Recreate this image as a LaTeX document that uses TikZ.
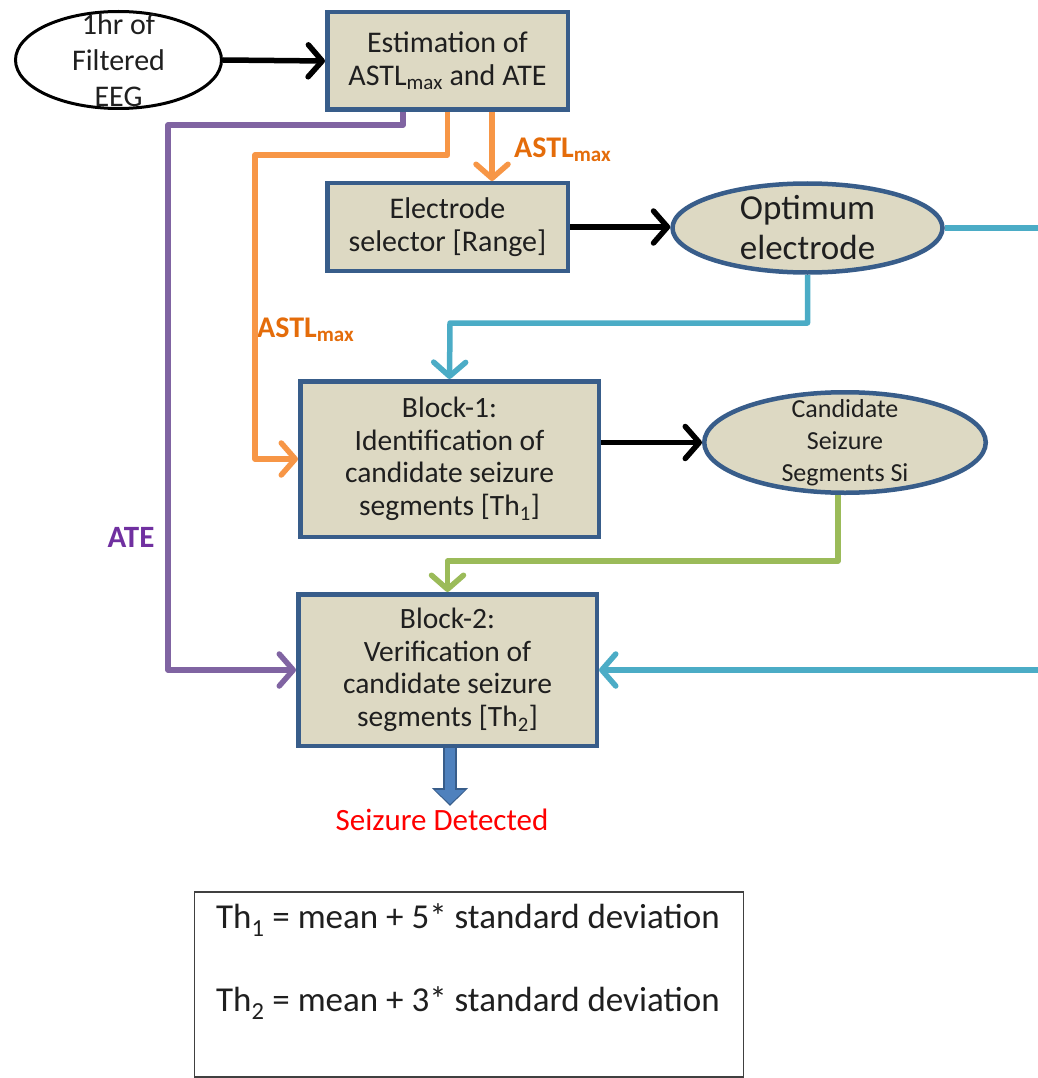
\documentclass[tikz,border=0pt]{standalone}
\usepackage{fontspec}
\setmainfont{Carlito}
\usetikzlibrary{arrows.meta,shapes.geometric,calc}
\definecolor{boxfill}{HTML}{DDD9C3}
\definecolor{boxline}{HTML}{385D8A}
\definecolor{orng}{HTML}{F79646}
\definecolor{orngtxt}{HTML}{E46C0A}
\definecolor{purp}{HTML}{8064A2}
\definecolor{purptxt}{HTML}{7030A0}
\definecolor{cyn}{HTML}{4BACC6}
\definecolor{grn}{HTML}{9BBB59}
\definecolor{arrblue}{HTML}{4F81BD}
\definecolor{txt}{HTML}{1F1F1F}
\begin{document}
\begin{tikzpicture}[x=1pt,y=-1pt,
  procbox/.style={draw=boxline, fill=boxfill, line width=4.5pt, rectangle, inner sep=0pt,
    align=center, text=txt, font=\fontsize{30}{33}\selectfont},
  ovalnode/.style={ellipse, draw=boxline, fill=boxfill, line width=4.5pt, inner sep=0pt},
  conn/.style={line width=5.5pt, line join=round, -{Straight Barb[length=14pt,width=32pt,round]}},
  lbl/.style={font=\bfseries\fontsize{30}{34}\selectfont, inner sep=0pt}
]
\useasboundingbox (0,0) rectangle (1037,1078);

% process boxes
\node[procbox, minimum width=240.5, minimum height=97.5] (est) at (447.5,61)
  {Estimation of\\ASTL\textsubscript{max} and ATE};
\node[procbox, minimum width=240.5, minimum height=87.5] (sel) at (447.5,227)
  {Electrode\\selector [Range]};
\node[procbox, font=\fontsize{29.5}{32.5}\selectfont, minimum width=298.5, minimum height=155.5] (b1) at (449.5,459)
  {Block-1:\\Identification of\\candidate seizure\\segments [Th\textsubscript{1}]};
\node[procbox, font=\fontsize{29.5}{32.5}\selectfont, minimum width=298.5, minimum height=151.5] (b2) at (447.5,670)
  {Block-2:\\Verification of\\candidate seizure\\segments [Th\textsubscript{2}]};

% ellipses
\node[ellipse, draw=black, fill=white, line width=3pt, inner sep=0pt,
  minimum width=206, minimum height=97,
  label={[align=center, text=txt, font=\fontsize{30}{36}\selectfont]center:1hr of\\Filtered\\EEG}]
  (eeg) at (118.5,60) {};
\node[ovalnode, minimum width=270, minimum height=89,
  label={[align=center, text=txt, font=\fontsize{35}{40}\selectfont]center:Optimum\\electrode}]
  (opt) at (807.5,228) {};
\node[ovalnode, minimum width=281.5, minimum height=100.5,
  label={[align=center, text=txt, font=\fontsize{26}{32}\selectfont]center:Candidate\\Seizure\\Segments Si}]
  (cand) at (845,442.5) {};

% labels
\node[lbl, text=orngtxt, anchor=west] (l1) at (514,150) {ASTL\textsubscript{max}};
\node[lbl, text=orngtxt, anchor=west] (l2) at (257,330) {ASTL\textsubscript{max}};
\node[lbl, text=purptxt, font=\bfseries\fontsize{31}{34}\selectfont] (l3) at (131,537) {ATE};
\node[text=red, font=\fontsize{31}{34}\selectfont, inner sep=0pt] (sd) at (442,820) {Seizure Detected};

% legend box
\node[draw=black!75, line width=1.5pt, minimum width=549, minimum height=185, inner sep=0pt] (legend) at (469,984.5) {};
\node[text=txt, font=\fontsize{35}{40}\selectfont] (th1) at (468,920) {Th\textsubscript{1} = mean + 5* standard deviation};
\node[text=txt, font=\fontsize{35}{40}\selectfont] (th2) at (468,1003) {Th\textsubscript{2} = mean + 3* standard deviation};

% black connectors
\draw[conn, black] (eeg.east) -- (est.west);
\draw[conn, black] (sel.east) -- (sel.east -| opt.west);
\draw[conn, black] (b1.east |- cand.west) -- (cand.west);

% orange
\draw[conn, orng] ([xshift=44.5pt]est.south) -- ([xshift=44.5pt]sel.north);
\draw[conn, orng] (est.south) |- (255,155) |- (b1.west);

% purple
\draw[conn, purp] ([xshift=-44.5pt]est.south) |- (168,125) |- (b2.west);

% cyan
\draw[conn, cyn] (opt.south) |- (450,323) -- (b1.north);
\coordinate (rt) at (1042,228);
\draw[conn, cyn] (opt.east) -- (opt.east -| rt) |- (b2.east);

% green
\draw[conn, grn] ([xshift=-7pt]cand.south) |- (447.5,561) -- (b2.north);

% output arrow
\coordinate (sdtop) at (450,806);
\draw[line width=14pt, boxline, -{Triangle[length=18pt,width=35pt]}] (b2.south -| sdtop) -- (sdtop);
\draw[line width=10pt, arrblue, shorten >=2pt, -{Triangle[length=14pt,width=29pt]}] (b2.south -| sdtop) -- (sdtop);
\end{tikzpicture}
\end{document}
